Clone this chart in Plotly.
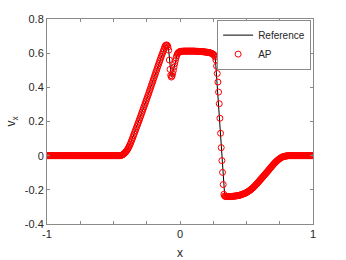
import numpy as np
import plotly.graph_objects as go

# ---------------- data ----------------
# AP solution on a uniform mesh (x step 0.005 from -1 to 1)
x_start = -1.0
x_step = 0.005

ap_left_zero = [0.0] * 110            # x = -1 .. -0.455
ap_rise = [                            # x = -0.45 .. -0.09
    0.000, 0.001, 0.002, 0.004, 0.006, 0.009, 0.012, 0.016, 0.020, 0.025,
    0.030, 0.036, 0.042, 0.050, 0.058, 0.067, 0.076, 0.086, 0.096, 0.106,
    0.117, 0.127, 0.138, 0.148, 0.159, 0.169, 0.180, 0.190, 0.201, 0.211,
    0.222, 0.233, 0.244, 0.255, 0.266, 0.277, 0.288, 0.299, 0.310, 0.321,
    0.332, 0.343, 0.354, 0.365, 0.377, 0.388, 0.400, 0.411, 0.423, 0.434,
    0.446, 0.457, 0.469, 0.480, 0.492, 0.503, 0.515, 0.526, 0.538, 0.549,
    0.560, 0.571, 0.582, 0.593, 0.603, 0.613, 0.625, 0.637, 0.644, 0.647,
    0.648, 0.645, 0.636,
]
ap_dip = [                             # x = -0.085 .. 0.01
    0.617, 0.560, 0.505, 0.470, 0.460, 0.466, 0.480, 0.498, 0.518, 0.538,
    0.556, 0.572, 0.585, 0.595, 0.601, 0.605, 0.608, 0.609, 0.610, 0.611,
]
ap_plateau = [                         # x = 0.015 .. 0.26
    0.611, 0.611, 0.612, 0.612, 0.612, 0.612, 0.612, 0.612, 0.612, 0.612,
    0.612, 0.612, 0.612, 0.612, 0.612, 0.612, 0.612, 0.612, 0.612, 0.612,
    0.611, 0.611,
    0.611, 0.611, 0.611, 0.610, 0.610, 0.610, 0.610, 0.609, 0.609, 0.609,
    0.608, 0.608, 0.607, 0.607, 0.606, 0.606, 0.605, 0.605, 0.604, 0.603,
    0.602, 0.601, 0.600, 0.598, 0.596, 0.593, 0.590, 0.585,
]
ap_shock = [                           # x = 0.265 .. 0.335
    0.577, 0.560, 0.525, 0.481, 0.431, 0.372, 0.304, 0.219, 0.131, 0.047,
    -0.029, -0.098, -0.169, -0.226, -0.236,
]
ap_right = [                           # x = 0.34 .. 0.81
    -0.238, -0.239, -0.239, -0.239, -0.239, -0.239, -0.239, -0.239, -0.239, -0.239,
    -0.239, -0.238, -0.238, -0.237, -0.237, -0.236, -0.236, -0.235, -0.235, -0.234,
    -0.233, -0.232, -0.231, -0.230, -0.229, -0.227, -0.226, -0.224, -0.223, -0.221,
    -0.220, -0.218, -0.216, -0.213, -0.211, -0.208, -0.206, -0.203, -0.200, -0.197,
    -0.194, -0.190, -0.187, -0.183, -0.179, -0.175, -0.171, -0.167, -0.163, -0.158,
    -0.154, -0.149, -0.145, -0.140, -0.136, -0.131, -0.127, -0.122, -0.118, -0.113,
    -0.109, -0.104, -0.100, -0.095, -0.091, -0.086, -0.081, -0.076, -0.072, -0.067,
    -0.063, -0.058, -0.054, -0.049, -0.045, -0.041, -0.037, -0.033, -0.030, -0.026,
    -0.023, -0.020, -0.017, -0.014, -0.012, -0.010, -0.008, -0.006, -0.005, -0.004,
    -0.003, -0.002, -0.002, -0.001, -0.001,
]
ap_right_zero = [0.0] * 38             # x = 0.815 .. 1

vx_ap = ap_left_zero + ap_rise + ap_dip + ap_plateau + ap_shock + ap_right + ap_right_zero
x_ap = np.round(x_start + x_step * np.arange(len(vx_ap)), 4)

# Reference solution (breakpoints)
x_ref = [-1.0, -0.45, -0.43, -0.40, -0.37, -0.35, -0.30, -0.25, -0.20, -0.15, -0.13,
         -0.11, -0.10, -0.09, -0.086, -0.066, -0.06, -0.05, -0.04, -0.03, -0.02,
         -0.01, 0.0, 0.01, 0.10, 0.20, 0.24, 0.255, 0.265, 0.336, 0.345, 0.40,
         0.45, 0.50, 0.55, 0.60, 0.65, 0.70, 0.75, 0.80, 0.82, 1.0]
vx_ref = [0.0, 0.0, 0.006, 0.030, 0.076, 0.117, 0.222, 0.332, 0.446, 0.560, 0.603,
          0.644, 0.648, 0.636, 0.625, 0.462, 0.466, 0.498, 0.538, 0.572, 0.595,
          0.605, 0.609, 0.611, 0.612, 0.606, 0.598, 0.590, 0.578, -0.234, -0.239, -0.238,
          -0.231, -0.216, -0.187, -0.145, -0.100, -0.054, -0.017, -0.002, 0.0, 0.0]

x_tickvals = [-1, 0, 1]
x_ticktext = ["-1", "0", "1"]
x_minor_tickvals = [-0.75, -0.5, -0.25, 0.25, 0.5, 0.75]
y_tickvals = [-0.4, -0.2, 0, 0.2, 0.4, 0.6, 0.8]
y_ticktext = ["-0.4", "-0.2", "0", "0.2", "0.4", "0.6", "0.8"]

# ---------------- figure ----------------
fig = go.Figure()
fig.add_trace(go.Scatter(
    x=x_ref, y=vx_ref, mode="lines", name="Reference",
    line=dict(color="black", width=1),
))
fig.add_trace(go.Scatter(
    x=x_ap, y=vx_ap, mode="markers", name="AP",
    marker=dict(symbol="circle-open", size=6, color="#ff0000", line=dict(width=1)),
))

axis_color = "#8a8a8a"
font_color = "#262626"

fig.update_layout(
    template="none",
    width=346, height=260,
    margin=dict(l=47, r=33, t=19, b=36, autoexpand=False),
    paper_bgcolor="white", plot_bgcolor="white",
    font=dict(family="Liberation Sans, Arial, sans-serif", size=11, color=font_color),
    showlegend=True,
    legend=dict(
        x=0.993, y=0.997, xanchor="right", yanchor="top",
        bgcolor="white", bordercolor=axis_color, borderwidth=1,
        font=dict(size=10, color=font_color),
        itemwidth=30, tracegroupgap=0,
    ),
)
fig.update_xaxes(
    range=[-1, 1], tickvals=x_tickvals, ticktext=x_ticktext,
    ticks="inside", ticklen=3, tickcolor=axis_color, tickwidth=1,
    minor=dict(tickvals=x_minor_tickvals, ticks="inside", ticklen=3,
               tickcolor=axis_color, tickwidth=1, showgrid=False),
    showline=True, linecolor=axis_color, linewidth=1, mirror="allticks",
    showgrid=False, zeroline=False, automargin=False,
    title=dict(text="x", font=dict(size=12, color=font_color), standoff=9),
)
fig.update_yaxes(
    range=[-0.4, 0.8], tickvals=y_tickvals, ticktext=y_ticktext,
    ticks="inside", ticklen=3, tickcolor=axis_color, tickwidth=1,
    showline=True, linecolor=axis_color, linewidth=1, mirror="allticks",
    showgrid=False, zeroline=False, automargin=False,
    title=dict(text="v<sub>x</sub>", font=dict(size=12, color=font_color), standoff=6),
)

fig.write_html(
    "out.html",
    config={"displayModeBar": False, "staticPlot": True},
    post_script="document.body.style.margin='0';document.body.style.overflow='hidden';",
)
